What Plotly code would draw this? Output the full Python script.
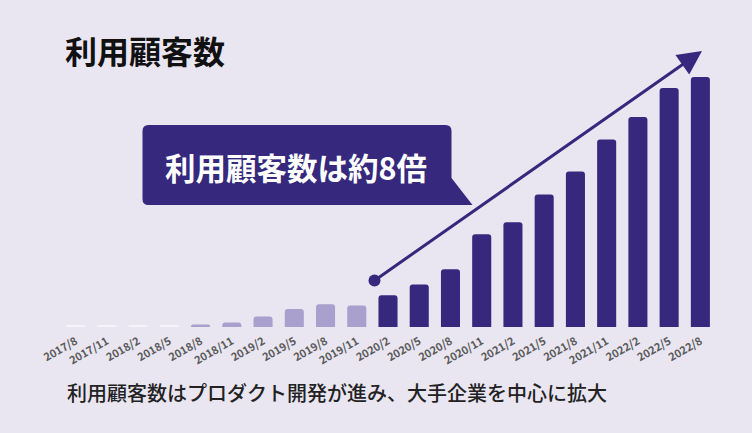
import plotly.graph_objects as go

# ---- data (bar heights, arbitrary units) ----
periods = ["2017/8", "2017/11", "2018/2", "2018/5", "2018/8", "2018/11",
           "2019/2", "2019/5", "2019/8", "2019/11", "2020/2", "2020/5",
           "2020/8", "2020/11", "2021/2", "2021/5", "2021/8", "2021/11",
           "2022/2", "2022/5", "2022/8"]
customers = [1.5, 1.5, 1.5, 1.5, 2.5, 4.5, 10.5, 18, 22.7, 21.4, 31.7, 42.4,
             57.7, 92.7, 104.7, 132.4, 155.4, 187.4, 210, 239, 250]
phase = ["faint"] * 4 + ["light"] * 6 + ["dark"] * 11

title_text = "利用顧客数"
callout_text = "利用顧客数は約8倍"
caption_text = "利用顧客数はプロダクト開発が進み、大手企業を中心に拡大"

# ---- styling ----
BG = "#e9e6f2"
DARK = "#35287d"
COLORS = {"faint": "#f5f3fb", "light": "#a9a0cd", "dark": DARK}
FONT = "Noto Sans CJK JP"

W, H = 752, 433
L, R, T, B = 60, 36, 40, 106
PW, PH = W - L - R, H - T - B
N = len(periods)
YMAX = PH  # 1 unit per pixel


def px_to_x(px):
    return (px - L) / PW * N - 0.5


def py_to_y(py):
    return (H - B - py) / PH * YMAX


def px_to_paper(px):
    return (px - L) / PW


def py_to_paper(py):
    return (H - B - py) / PH


fig = go.Figure()
fig.add_trace(go.Bar(
    x=periods, y=customers,
    marker=dict(color=[COLORS[p] for p in phase], cornerradius=3, line=dict(width=0)),
    width=0.61, hoverinfo="skip",
))

# arrow start marker
x0, y0 = px_to_x(374.5), py_to_y(280.5)
x1, y1 = px_to_x(702), py_to_y(51)
fig.add_trace(go.Scatter(
    x=[x0], y=[y0], mode="markers", xaxis="x2", yaxis="y",
    marker=dict(size=12, color=DARK), hoverinfo="skip",
))
fig.add_annotation(
    x=x1, y=y1, ax=x0, ay=y0, xref="x2", yref="y", axref="x2", ayref="y",
    showarrow=True, arrowhead=2, arrowsize=1.6, arrowwidth=3, arrowcolor=DARK, text="",
)

# callout bubble (pixel geometry converted to data coords)
bx0, bx1, by0, by1 = 142.5, 451.5, 125, 205
r = 6
tail_top, tail_tip = 178, 472.5
path = (
    f"M {px_to_x(bx0 + r)} {py_to_y(by0)} "
    f"L {px_to_x(bx1 - r)} {py_to_y(by0)} "
    f"Q {px_to_x(bx1)} {py_to_y(by0)} {px_to_x(bx1)} {py_to_y(by0 + r)} "
    f"L {px_to_x(bx1)} {py_to_y(tail_top)} "
    f"L {px_to_x(tail_tip)} {py_to_y(by1)} "
    f"L {px_to_x(bx0 + r)} {py_to_y(by1)} "
    f"Q {px_to_x(bx0)} {py_to_y(by1)} {px_to_x(bx0)} {py_to_y(by1 - r)} "
    f"L {px_to_x(bx0)} {py_to_y(by0 + r)} "
    f"Q {px_to_x(bx0)} {py_to_y(by0)} {px_to_x(bx0 + r)} {py_to_y(by0)} Z"
)
fig.add_shape(type="path", path=path, xref="x2", yref="y",
              fillcolor=DARK, line=dict(width=0), layer="above")
fig.add_annotation(
    x=px_to_paper(296), y=py_to_paper(167), xref="paper", yref="paper",
    text=f"<b>{callout_text}</b>", showarrow=False,
    font=dict(family=FONT, size=30.5, color="white"), xanchor="center", yanchor="middle",
)

# caption
fig.add_annotation(
    x=px_to_paper(65), y=py_to_paper(392), xref="paper", yref="paper",
    text=caption_text, showarrow=False, xanchor="left", yanchor="middle",
    font=dict(family=FONT, size=20, color="#222222", weight=500),
)

fig.update_layout(
    width=W, height=H,
    margin=dict(l=L, r=R, t=T, b=B, autoexpand=False),
    paper_bgcolor=BG, plot_bgcolor=BG,
    showlegend=False,
    bargap=0.39,
    title=dict(text=f"<b>{title_text}</b>", x=65 / W, xanchor="left", xref="container",
               y=1 - 53 / H, yanchor="middle", yref="container",
               font=dict(family=FONT, size=32, color="#111111")),
    xaxis=dict(type="category", range=[-0.5, N - 0.5], showgrid=False, zeroline=False,
               showline=False, tickangle=-30, ticks="", ticklabelstandoff=5,
               tickfont=dict(family=FONT, size=11, color="#5a5a5a", weight="bold"),
               fixedrange=True),
    xaxis2=dict(range=[-0.5, N - 0.5], overlaying="x", visible=False, fixedrange=True),
    yaxis=dict(range=[0, YMAX], visible=False, fixedrange=True),
)

fig.write_html("out.html")
